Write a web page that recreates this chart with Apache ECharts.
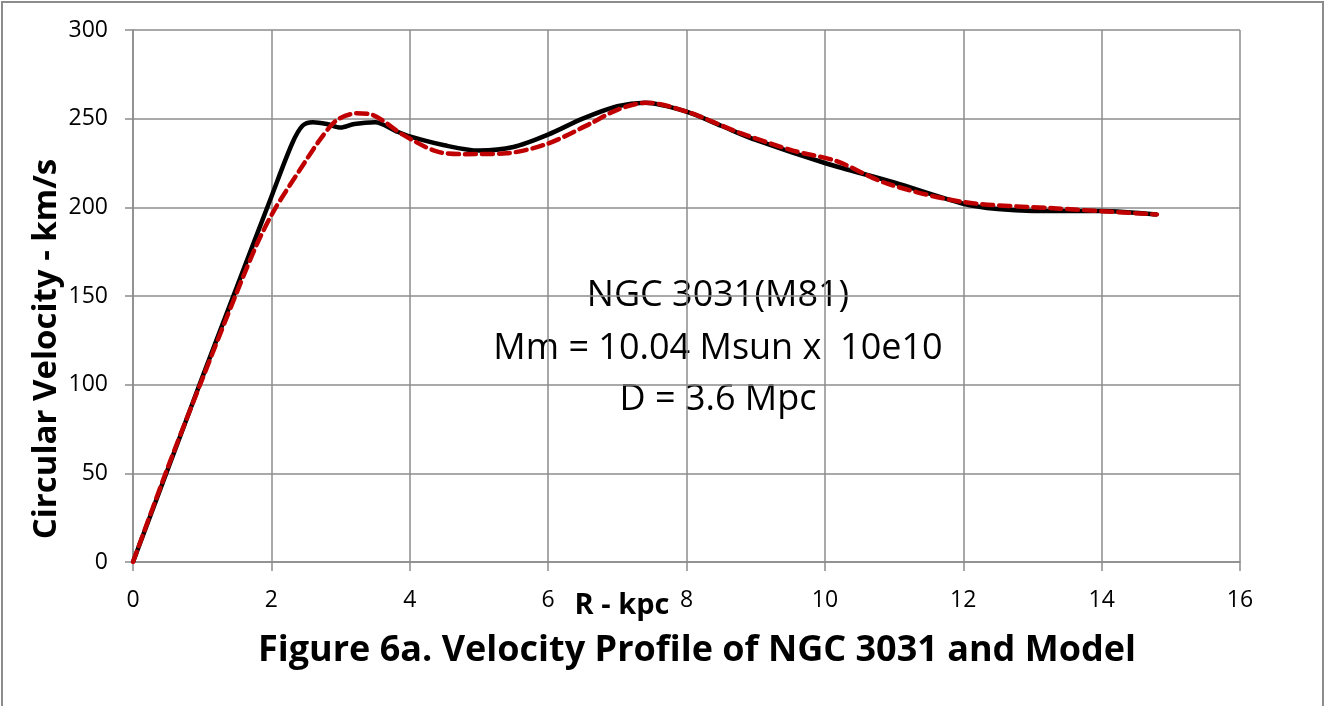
<!DOCTYPE html>
<html><head><meta charset="utf-8">
<script src="https://cdn.jsdelivr.net/npm/echarts@6/dist/echarts.min.js"></script>
<style>html,body{margin:0;padding:0;background:#fff}#c{width:1325px;height:706px}</style>
</head><body><div id="c"></div>
<script>
const observedR = [0, 0.5, 1, 1.5, 2, 2.3, 2.45, 2.6, 2.8, 3.0, 3.2, 3.5, 3.8, 4, 4.5, 5, 5.5, 6, 6.5, 7, 7.4, 8, 8.5, 9, 10, 11, 12, 12.5, 13, 13.5, 14, 14.8];
const observedV = [0, 52, 104, 155, 206, 236, 246, 248, 247, 245, 247, 248, 243, 240, 235, 232, 234, 241, 250, 257, 259, 254, 246, 238, 225, 214, 202, 199, 198, 198, 198, 196];
const modelR = [0, 0.5, 1, 1.5, 1.8, 2.05, 2.41, 2.7, 2.94, 3.23, 3.47, 3.9, 4.39, 4.8, 5.4, 6, 6.6, 7, 7.42, 8, 8.77, 9.54, 10.17, 10.89, 12, 13.3, 14.8];
const modelV = [0, 53, 103, 152, 180, 199, 221, 238, 249, 253, 252, 241, 231.5, 230, 230.5, 236, 247, 255, 259, 254, 242, 232, 226, 213.5, 203, 199.5, 196];
const xTicks = [0, 2, 4, 6, 8, 10, 12, 14, 16];
const yTicks = [0, 50, 100, 150, 200, 250, 300];
const annotationLines = ['NGC 3031(M81)', 'Mm = 10.04 Msun x  10e10', 'D = 3.6 Mpc'];
const chartTitle = 'Figure 6a. Velocity Profile of NGC 3031 and Model';
const xName = 'R - kpc';
const yName = 'Circular Velocity - km/s';

const pair = (xs, ys) => xs.map((x, i) => [x, ys[i]]);
const font = "'Open Sans', 'Noto Sans', sans-serif";
const gridColor = '#8c8c8c';
const chart = echarts.init(document.getElementById('c'), null, {renderer: 'canvas'});
chart.setOption({
  animation: false,
  backgroundColor: '#fff',
  grid: {left: 133, top: 30, right: 85, bottom: 144},
  xAxis: {
    type: 'value', min: xTicks[0], max: xTicks[xTicks.length - 1], interval: 2,
    axisLine: {lineStyle: {color: gridColor, width: 1.5}},
    axisTick: {show: true, length: 9, lineStyle: {color: gridColor, width: 1.5}},
    axisLabel: {fontFamily: font, fontSize: 23, color: '#000', margin: 27},
    splitLine: {show: true, lineStyle: {color: gridColor, width: 1.5}}
  },
  yAxis: {
    type: 'value', min: yTicks[0], max: yTicks[yTicks.length - 1], interval: 50,
    axisLine: {show: true, lineStyle: {color: gridColor, width: 1.5}},
    axisTick: {show: true, length: 8, lineStyle: {color: gridColor, width: 1.5}},
    axisLabel: {fontFamily: font, fontSize: 23, color: '#000', margin: 25},
    splitLine: {show: true, lineStyle: {color: gridColor, width: 1.5}}
  },
  graphic: [
    {type: 'polyline', shape: {points: [[2, 720], [2, 2], [1323, 2], [1323, 720]]}, style: {stroke: gridColor, lineWidth: 2, fill: null}},
    {type: 'text', x: 697, y: 651, style: {text: chartTitle, fontFamily: font, fontWeight: 'bold', fontSize: 36, fill: '#000', align: 'center', verticalAlign: 'middle'}},
    {type: 'text', x: 622, y: 606, style: {text: xName, fontFamily: font, fontWeight: 'bold', fontSize: 29, fill: '#000', align: 'center', verticalAlign: 'middle'}},
    {type: 'text', x: 47, y: 349, rotation: Math.PI / 2, style: {text: yName, fontFamily: font, fontWeight: 'bold', fontSize: 33, fill: '#000', align: 'center', verticalAlign: 'middle'}},
    {type: 'text', x: 718, y: 296, style: {text: annotationLines[0], fontFamily: font, fontSize: 36, fill: '#000', align: 'center', verticalAlign: 'middle'}},
    {type: 'text', x: 718, y: 349, style: {text: annotationLines[1], fontFamily: font, fontSize: 36, fill: '#000', align: 'center', verticalAlign: 'middle'}},
    {type: 'text', x: 718, y: 400, style: {text: annotationLines[2], fontFamily: font, fontSize: 36, fill: '#000', align: 'center', verticalAlign: 'middle'}}
  ],
  series: [
    {type: 'line', data: pair(observedR, observedV), smooth: 0.3, showSymbol: false, lineStyle: {color: '#000', width: 4.5}, z: 2},
    {type: 'line', data: pair(modelR, modelV), smooth: 0.3, showSymbol: false, lineStyle: {color: '#c00000', width: 4.5, type: [11, 6], cap: 'round'}, z: 3}
  ]
});
</script></body></html>
